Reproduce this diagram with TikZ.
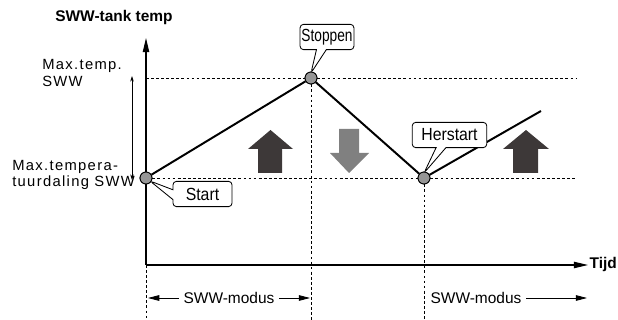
\documentclass[tikz,border=0pt]{standalone}
\usepackage{fontspec}
\setmainfont{Liberation Sans}
\newfontfamily\widefont[LetterSpace=9]{Liberation Sans}
\newfontfamily\narrowfont[FakeStretch=0.9]{Liberation Sans}
\newfontfamily\tightfont[FakeStretch=0.78]{Liberation Sans}
\usepackage{tikz}
\usetikzlibrary{arrows.meta,calc,positioning,shapes.callouts}
\definecolor{arrowdark}{RGB}{61,56,56}
\definecolor{arrowgrey}{RGB}{128,128,128}
\definecolor{dotgrey}{RGB}{150,150,150}

\begin{document}
\begin{tikzpicture}[x=0.025cm,y=-0.025cm,
  axis/.style={line width=0.8pt,-{Triangle[length=10pt,width=4.5pt]}},
  guide/.style={line width=0.6pt,dash pattern=on 2pt off 1.6pt},
  curve/.style={line width=1.4pt,line join=round},
  pt/.style={circle,draw,line width=0.6pt,fill=dotgrey,inner sep=0pt,minimum size=8.5pt},
  bubble/.style={rectangle callout,draw,line width=0.6pt,rounded corners=2.5pt,fill=white,
    font=\fontsize{12.5}{14}\selectfont\narrowfont,inner sep=1pt,minimum height=18pt,
    callout pointer width=7pt},
  lbl/.style={font=\fontsize{10.5}{12}\selectfont\widefont,align=left,inner sep=0pt},
  span/.style={line width=0.6pt,-{Triangle[length=8pt,width=4pt]}}
]
\useasboundingbox (0,0) rectangle (618,320);

% axes
\coordinate (O) at (146,265);
\coordinate (ytop) at (146,38);
\coordinate (xend) at (588,265);
\draw[axis] (O) -- (ytop);
\draw[axis] (O) -- (xend);
\node[font=\fontsize{11}{13}\selectfont\bfseries] (ttl) at (114,18) {SWW-tank temp};
\node[font=\fontsize{11}{13}\selectfont\bfseries,anchor=west,inner sep=1pt] (tijd) at (xend) {Tijd};

% temperature levels
\node[pt] (ps) at (146,178) {};
\node[pt] (pm) at (311,78) {};
\node[pt] (pr) at (424,178) {};
\coordinate (pe) at (541,111);
\draw[guide] (pm) -- (577,78);
\draw[guide] (146,78) -- (pm);
\draw[guide] (ps) -- (pr) -- (577,178);
\draw[guide] (O) -- (146,320);
\draw[guide] (pm) -- (311,320);
\draw[guide] (pr) -- (424,320);

\draw[curve] (ps) -- (pm) -- (pr) -- (pe);
\node[pt] at (ps) {};
\node[pt] at (pm) {};
\node[pt] at (pr) {};

% range on the left
\coordinate (rtop) at (132,76);
\coordinate (rbot) at (132,180);
\draw[line width=0.5pt,{Stealth[length=4pt,width=2.5pt]}-{Stealth[length=4pt,width=2.5pt]}] (rtop) -- (rbot);
\node[lbl,anchor=west] (tmax) at (42,73) {Max.temp.\\SWW};
\node[lbl,anchor=west] (tmin) at (12,175) {Max.tempera-\\tuurdaling SWW};

% callouts
\node[bubble,minimum width=42pt,callout absolute pointer={(150,181)}] (cstart) at (202.5,194) {Start};
\node[bubble,minimum width=38pt,font=\fontsize{12.5}{14}\selectfont\tightfont,
  callout absolute pointer={(311,73)}] (cstop) at (327,37) {Stoppen};
\node[bubble,minimum width=53pt,callout absolute pointer={(424,173)}] (cherst) at (449.5,135) {Herstart};

% block arrows
\fill[arrowdark] (258,173) -- (258,149) -- (248,149) -- (270.5,130) -- (293,149) -- (282,149) -- (282,173) -- cycle;
\fill[arrowgrey] (339,129) -- (359,129) -- (359,153) -- (369,153) -- (349,173) -- (330,153) -- (339,153) -- cycle;
\fill[arrowdark] (513,173) -- (513,149) -- (503,149) -- (526,130) -- (549,149) -- (538,149) -- (538,173) -- cycle;

% modes
\node[font=\fontsize{11}{13}\selectfont] (mode1) at (229,298) {SWW-modus};
\coordinate (m1l) at (148,298);
\coordinate (m1r) at (310,298);
\draw[span] (mode1.west) -- (m1l);
\draw[span] (mode1.east) -- (m1r);
\node[font=\fontsize{11}{13}\selectfont] (mode2) at (476,298) {SWW-modus};
\coordinate (m2r) at (587,298);
\draw[span] (mode2.east) -- (m2r);
\end{tikzpicture}
\end{document}
